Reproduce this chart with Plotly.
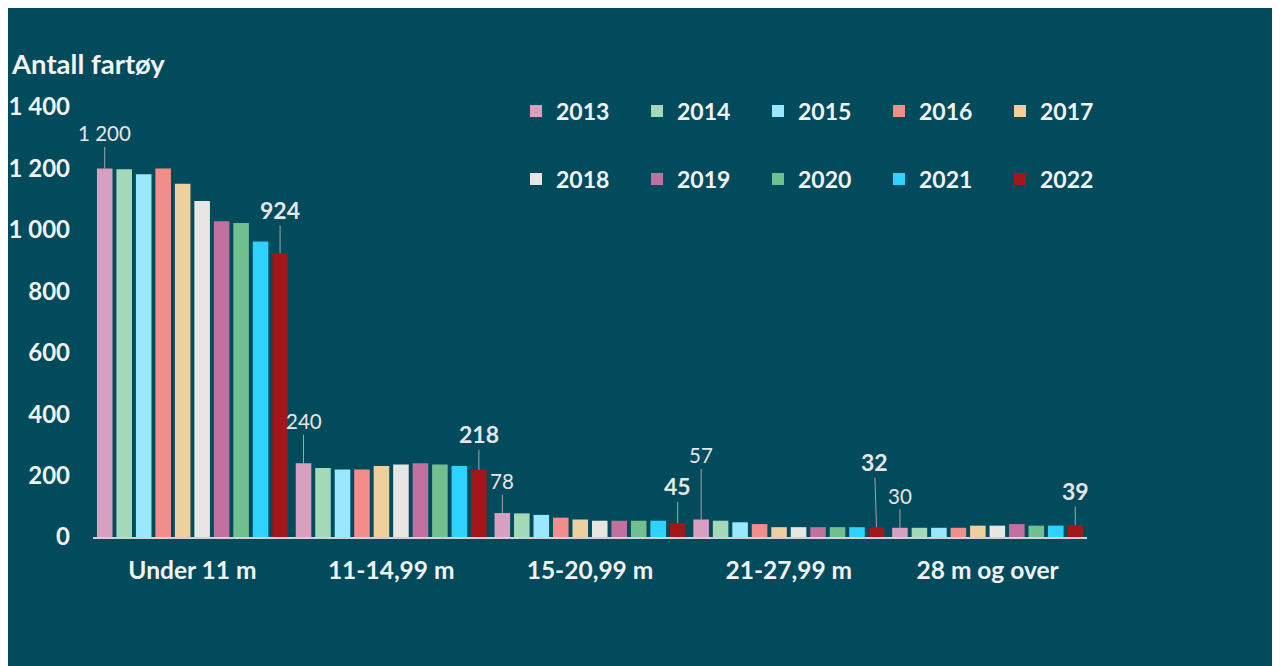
import plotly.graph_objects as go

# ---------------- data ----------------
categories = ["Under 11 m", "11-14,99 m", "15-20,99 m", "21-27,99 m", "28 m og over"]
years = ["2013", "2014", "2015", "2016", "2017", "2018", "2019", "2020", "2021", "2022"]

v2013 = [1200, 240, 78, 57, 30]
v2014 = [1197, 225, 77, 53, 30]
v2015 = [1181, 220, 72, 48, 30]
v2016 = [1200, 220, 63, 42, 30]
v2017 = [1150, 231, 57, 32, 37]
v2018 = [1094, 236, 53, 32, 37]
v2019 = [1028, 240, 53, 32, 42]
v2020 = [1022, 236, 53, 32, 37]
v2021 = [962, 231, 53, 32, 37]
v2022 = [924, 218, 45, 32, 39]
series = [v2013, v2014, v2015, v2016, v2017, v2018, v2019, v2020, v2021, v2022]

colors = ["#D8A0C0", "#A3D9B8", "#99E8FF", "#F28E8A", "#EDD09E",
          "#E8E6E3", "#C2709E", "#72C090", "#2DD2FF", "#A3161A"]

y_ticks = [0, 200, 400, 600, 800, 1000, 1200, 1400]
y_tick_labels = ["0", "200", "400", "600", "800", "1 000", "1 200", "1 400"]

# data labels: (year index, category index, ax, ay)
labels = [
    (0, 0, 0, -35), (9, 0, 0, -43),
    (0, 1, 0, -42), (9, 1, 0, -36),
    (0, 2, 0, -32), (9, 2, 0, -37),
    (0, 3, 0, -64), (9, 3, -2, -65),
    (0, 4, 0, -32), (9, 4, 0, -34),
]

BG = "#024B5C"
TXT = "#F2F2F2"
FONT = "Lato"
bargap = 0.02

fig = go.Figure()
for i, (yr, vals) in enumerate(zip(years, series)):
    fig.add_trace(go.Bar(
        x=categories, y=vals, name=yr,
        marker=dict(color=colors[i], line=dict(width=0)),
        legend="legend" if i < 5 else "legend2",
    ))

ann = []
for (yi, ci, ax, ay) in labels:
    val = series[yi][ci]
    offset = (yi - 4.5) * (1 - bargap) / len(years)
    bold = yi == len(years) - 1
    ann.append(dict(
        x=ci + offset, y=val, xref="x", yref="y",
        text=f"{val:,}".replace(",", " "),
        showarrow=True, arrowhead=0, arrowwidth=1, arrowcolor="#A6A6A6",
        ax=ax, ay=ay,
        font=dict(family=FONT, size=23 if bold else 20.5, color="#E6E6E6",
                  weight=700 if bold else 400),
    ))

PL, PR, PT, PB = 85, 1079, 99, 529  # plot area in figure pixels
PW, PH = PR - PL, PB - PT

fig.update_layout(
    width=1280, height=666,
    paper_bgcolor=BG, plot_bgcolor=BG,
    margin=dict(l=PL, r=1280 - PR, t=PT, b=666 - PB, autoexpand=False),
    barmode="group", bargap=bargap, bargroupgap=0.2,
    title=dict(text="Antall fartøy", x=4 / 1280, xanchor="left",
               y=1 - 56 / 666, yanchor="middle", xref="container", yref="container",
               font=dict(family=FONT, size=27.5, color=TXT, weight=700)),
    xaxis=dict(type="category", range=[-0.5, len(categories) - 0.5],
               showgrid=False, showline=True, linecolor="#D0D0D0",
               linewidth=1.5, ticks="", ticklabelstandoff=11,
               tickfont=dict(family=FONT, size=24.5, color=TXT, weight=700)),
    yaxis=dict(range=[0, 1400], showgrid=False, zeroline=False, showline=False,
               tickvals=y_ticks, ticktext=y_tick_labels, ticks="",
               ticklabelstandoff=22,
               tickfont=dict(family=FONT, size=24, color=TXT, weight=700)),
    legend=dict(orientation="h", x=(508 - PL) / PW, xanchor="left",
                y=(PB - 103) / PH, yanchor="middle", entrywidth=76,
                bgcolor="rgba(0,0,0,0)",
                font=dict(family=FONT, size=23, color=TXT, weight=700)),
    legend2=dict(orientation="h", x=(508 - PL) / PW, xanchor="left",
                 y=(PB - 171) / PH, yanchor="middle", entrywidth=76,
                 bgcolor="rgba(0,0,0,0)",
                 font=dict(family=FONT, size=23, color=TXT, weight=700)),
    annotations=ann,
    showlegend=True,
)

fig.write_html("out.html")
